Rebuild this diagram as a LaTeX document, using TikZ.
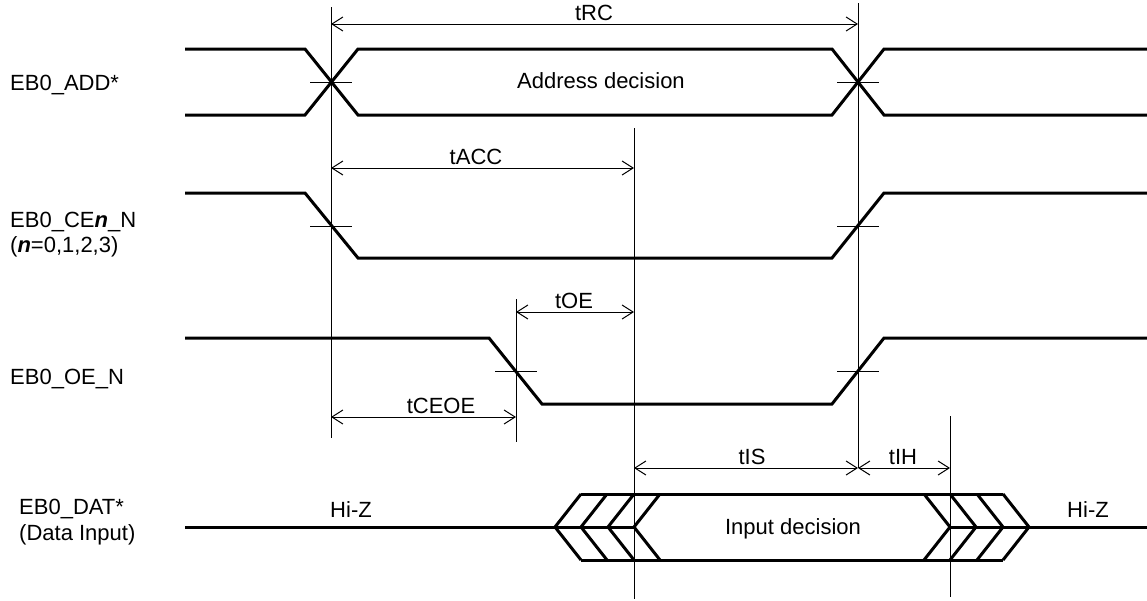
\documentclass[tikz,border=0pt]{standalone}
\usepackage{fontspec}
\setmainfont{Liberation Sans}
\usetikzlibrary{arrows.meta}

\begin{document}
\begin{tikzpicture}[x=1pt, y=-1pt,
            sig/.style={line width=3pt, line join=miter},
            guide/.style={line width=1pt},
            tick/.style={line width=1pt},
            dim/.style={line width=1pt, {Straight Barb[length=11pt,width=14pt]}-{Straight Barb[length=11pt,width=14pt]}},
            lbl/.style={anchor=base, inner sep=0pt, font=\fontsize{22}{25}\selectfont},
            sname/.style={anchor=base west, inner sep=0pt, font=\fontsize{22}{25}\selectfont}
        ]
            \useasboundingbox (0,0) rectangle (1147,600);

            % signal names
            \node[sname] (nadd) at (10,90) {EB0\_ADD*};
            \node[sname] (nce) at (10,227) {EB0\_CE\textbf{\textit{n}}\_N};
            \node[sname] (ncen) at (10,252) {(\textbf{\textit{n}}=0,1,2,3)};
            \node[sname] (noe) at (10,384) {EB0\_OE\_N};
            \node[sname] (ndat) at (19,514) {EB0\_DAT*};
            \node[sname] (ndatin) at (19,540) {(Data Input)};

            % waveforms
            \draw[sig] (185,49) -- (305,49) -- (358,115) -- (832,115) -- (884,49) -- (1147,49);
            \draw[sig] (185,115) -- (305,115) -- (358,49) -- (832,49) -- (884,115) -- (1147,115);
            \draw[sig] (185,193) -- (305,193) -- (358,258) -- (832,258) -- (884,193) -- (1147,193);
            \draw[sig] (185,338) -- (489,338) -- (542,404) -- (832,404) -- (884,338) -- (1147,338);

            \draw[sig] (185,527) -- (634,527);
            \draw[sig] (581,494) -- (1003,494);
            \draw[sig] (581,560) -- (1003,560);
            \foreach \t in {555,581,608,634}
                \draw[sig] (\t+26,494) -- (\t,527) -- (\t+26,560);
            \foreach \t in {924,950,977,1003}
                \draw[sig] (\t,494) -- (\t+26,527) -- (\t,560);
            \draw[sig] (950,527) -- (1147,527);

            \node[lbl] (addr) at (601,88) {Address decision};
            \node[lbl] (inp) at (793,534) {Input decision};
            \node[lbl] (hizl) at (351,517) {Hi-Z};
            \node[lbl] (hizr) at (1088,517) {Hi-Z};

            % crossing marks
            \foreach \x/\y in {331/82, 858/82, 331/226, 858/226, 516/371, 858/371}
                \draw[tick] (\x-21,\y) -- (\x+21,\y);

            % guide lines
            \draw[guide] (331,7) -- (331,438);
            \draw[guide] (858,3) -- (858,468);
            \draw[guide] (634,128) -- (634,599);
            \draw[guide] (516,299) -- (516,442);
            \draw[guide] (950,416) -- (950,597);

            % timings
            \draw[dim] (331,24) -- (858,24);
            \draw[dim] (331,168) -- (634,168);
            \draw[dim] (516,312) -- (634,312);
            \draw[dim] (331,417) -- (516,417);
            \draw[dim] (634,468) -- (858,468);
            \draw[dim] (858,468) -- (950,468);

            \node[lbl] (trc) at (594,20) {tRC};
            \node[lbl] (tacc) at (476,164) {tACC};
            \node[lbl] (toe) at (574,308) {tOE};
            \node[lbl] (tceoe) at (441,413) {tCEOE};
            \node[lbl] (tis) at (752,464) {tIS};
            \node[lbl] (tih) at (903,464) {tIH};
        \end{tikzpicture}
\end{document}
